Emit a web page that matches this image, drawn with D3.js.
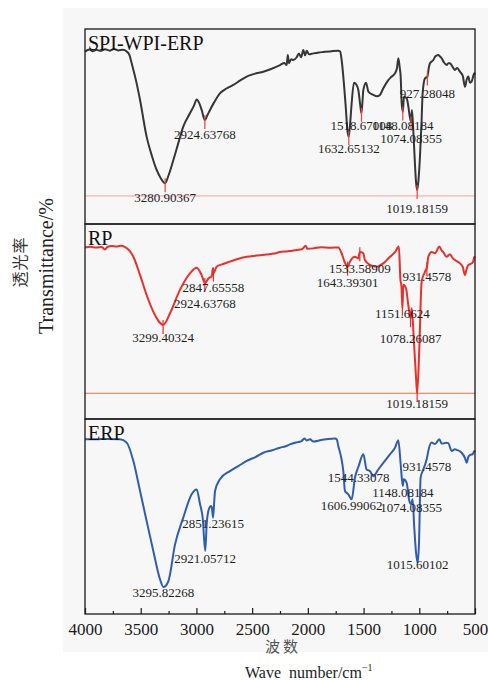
<!DOCTYPE html>
<html>
<head>
<meta charset="utf-8">
<script src="https://cdn.jsdelivr.net/npm/d3@7"></script>
<style>
  body { margin: 0; background: #fff; }
  svg { display: block; }
</style>
</head>
<body>
<svg id="chart" width="488" height="680"></svg>
<script>
// spectra: [wavenumber cm-1, relative transmittance]
const spiWpiErp = [
  [4000,88.4],[3960,89.5],[3930,88.6],[3900,89.3],[3860,88.8],[3820,89.6],[3780,88.9],[3740,89.8],[3700,89.0],
  [3660,89.4],[3626,88.5],[3600,86.5],[3581,82.4],[3540,73],[3506,63.6],[3447,44.8],[3400,35],[3357,27.7],
  [3320,23.5],[3281,20.9],[3250,25],[3207,32.8],[3160,42],[3118,49.9],[3058,56.8],[3020,61],[2998,63.9],
  [2975,62],[2953,58.5],[2925,53.3],[2900,56],[2878,58.5],[2840,62.5],[2789,67.0],[2730,69.5],[2669,71.3],
  [2610,73.5],[2549,75.6],[2480,77],[2400,78.1],[2330,79.5],[2250,81.5],[2210,82.6],[2190,81.5],[2180,86.7],
  [2170,82.5],[2150,84.5],[2130,84.1],[2100,85.5],[2080,87.5],[2060,85.5],[2041,89.2],[2025,86.5],[2010,88.8],
  [1990,87],[1951,87.5],[1900,88],[1861,88.2],[1800,88.5],[1727,88.9],[1710,88.5],[1697,84.1],[1660,60],
  [1645,48],[1633,44.8],[1620,52],[1607,61.9],[1586,72.5],[1565,71.5],[1547,68.7],[1530,61],[1519,56.8],
  [1502,68.7],[1478,72.5],[1457,67.9],[1413,66.2],[1380,65.5],[1353,66.2],[1323,69.6],[1278,73.8],[1250,75.5],
  [1218,77.3],[1200,80],[1188,85.0],[1175,80],[1167,75.6],[1158,62],[1148,57.6],[1137,65.3],[1113,64.4],
  [1098,60.2],[1085,55],[1074,52.5],[1066,58.5],[1054,48.2],[1040,32],[1030,22],[1019,17.4],[1008,22],
  [994,34.5],[980,52],[970,67.0],[949,74.7],[927,75.6],[915,80],[904,82.4],[874,84.1],[855,86],[830,86.7],
  [815,86],[799,85.0],[780,83],[754,81.5],[740,82.5],[725,82.4],[700,80.5],[680,79.0],[660,80],[635,78.1],
  [610,76],[590,70.4],[575,74],[560,75.6],[545,72.5],[530,73.0],[515,76],[506,77.3],[500,76.5]
];

const rp = [
  [4000,88.0],[3950,88.3],[3900,87.9],[3850,88.2],[3820,86.9],[3800,88.2],[3760,88.7],[3720,88.4],[3680,88.8],
  [3640,88.1],[3600,86.2],[3566,83.2],[3506,73.8],[3447,63.6],[3372,53.3],[3330,49.5],[3299,48.2],[3237,54.2],
  [3148,66.2],[3058,74.7],[2998,77.6],[2953,73.8],[2924,69.6],[2893,72.1],[2863,73.0],[2852,77.3],[2847,74.8],
  [2819,78.1],[2760,79.5],[2699,80.7],[2620,82.2],[2549,83.2],[2460,83.8],[2370,84.4],[2300,84.9],[2250,85.6],
  [2180,86.0],[2101,86.7],[2050,87.2],[2020,88.9],[2005,87.3],[1951,87.5],[1880,88.1],[1800,87.8],[1727,88.0],
  [1697,85.0],[1670,80.5],[1643,78.1],[1622,80.7],[1577,83.2],[1547,82.4],[1540,84.5],[1533,85.6],[1502,85.0],
  [1488,81.5],[1443,79.0],[1383,78.1],[1323,79.8],[1263,83.2],[1218,85.6],[1183,88.4],[1170,72],[1160,68],
  [1151,56.8],[1143,68.9],[1120,67.2],[1099,58.6],[1078,51.6],[1068,56.8],[1048,39.7],[1030,22],[1019,13.2],
  [1000,36.2],[979,70.4],[949,75.5],[931,78],[919,83.2],[889,85.6],[859,85.0],[820,88.4],[800,86.5],[785,85.6],
  [755,83.2],[725,84.5],[700,82.5],[680,81.5],[635,79.8],[610,78],[590,73.8],[575,77],[560,79.0],[530,79.8],
  [515,81],[506,83.2],[500,82.5]
];

const erp = [
  [4000,89.6],[3900,89.6],[3800,89.8],[3686,89.6],[3626,87.9],[3566,78.5],[3506,63.1],[3447,47.7],[3387,32.3],
  [3327,17.8],[3296,13.8],[3252,16.8],[3192,35.7],[3118,49.4],[3043,61.4],[2998,63.9],[2968,56.4],[2944,49.4],
  [2921,32.3],[2908,46.0],[2893,52.8],[2869,55.4],[2860,54],[2851,49.4],[2840,58],[2833,63.1],[2789,69.1],
  [2699,73.3],[2620,76],[2549,78.5],[2470,80.5],[2400,82.7],[2320,84],[2250,85.3],[2200,86],[2161,87.0],
  [2100,88],[2060,88.5],[2030,90],[2011,89.0],[1980,89.6],[1951,88.4],[1880,89.2],[1832,89.6],[1757,90.0],
  [1740,89.5],[1727,86.2],[1700,80],[1682,73.3],[1667,63.1],[1637,61.4],[1607,58.8],[1577,70.0],[1544,75.9],
  [1502,81.9],[1473,74.1],[1443,73.3],[1413,70.7],[1368,74.1],[1323,77.5],[1263,81.9],[1218,85.3],[1188,89.1],
  [1167,76.8],[1148,65.6],[1140,69.1],[1114,67.4],[1090,58.1],[1074,56.4],[1060,58.8],[1045,44.3],[1030,32],
  [1015,26.3],[1003,35.7],[988,70.0],[964,74.1],[931,80],[919,83.6],[889,87.9],[859,87.2],[820,89.6],[800,87.5],
  [785,87.5],[760,87.8],[740,87.6],[710,83.6],[680,84.5],[665,84.2],[620,82.7],[590,80],[575,77.6],[560,80.5],
  [545,81.5],[520,82],[506,83.6],[500,83]
];

// peak annotations (labels are the wavenumbers)
const spiWpiErpPeaks = ["3280.90367","2924.63768","1632.65132","1518.67008","1148.08184","1074.08355","927.28048","1019.18159"];
const rpPeaks = ["3299.40324","2847.65558","2924.63768","1533.58909","1643.39301","931.4578","1151.6624","1078.26087","1019.18159"];
const erpPeaks = ["3295.82268","2921.05712","2851.23615","1544.33078","1606.99062","931.4578","1148.08184","1074.08355","1015.60102"];

const sampleNames = ["SPI-WPI-ERP", "RP", "ERP"];
const xTicks = [4000, 3500, 3000, 2500, 2000, 1500, 1000, 500];
const xMinorTicks = [3750, 3250, 2750, 2250, 1750, 1250, 750];

// layout: label baselines (same units as the spectrum) and reference lines
const spiLabelY = [11.4, 43.4, 36.3, 48.2, 48.2, 41.7, 64.5, 5.5];
const rpLabelY = [39.3, 65.3, 57.1, 74.7, 67.8, 70.9, 51.6, 39.1, 5.8];
const erpLabelY = [8.6, 26.3, 43.9, 67.8, 53.3, 73.3, 59.8, 52.5, 22.9];

const svg = d3.select('#chart');
const serif = '"Liberation Serif", "Times New Roman", serif';
const cjk = '"Noto Sans CJK SC", sans-serif';

const left = 85, right = 475, panelH = 195;
const tops = [29, 224, 419];

svg.append('rect')
  .attr('x', 63).attr('y', 8).attr('width', 425).attr('height', 644)
  .attr('fill', '#f7f7f7');

const x = d3.scaleLinear().domain([4000, 500]).range([left, right]);

const panels = [
  { data: spiWpiErp, peaks: spiWpiErpPeaks, labelY: spiLabelY, color: '#363636', mark: '#e8443a', base: 14.4, baseColor: '#f4a3a0' },
  { data: rp, peaks: rpPeaks, labelY: rpLabelY, color: '#e8302c', mark: '#e8302c', base: 13.2, baseColor: '#d77448' },
  { data: erp, peaks: erpPeaks, labelY: erpLabelY, color: '#2f5db0', mark: null, base: null }
];

function valueAt(data, wn) {
  for (let i = 0; i < data.length - 1; i++) {
    const a = data[i], b = data[i + 1];
    if (wn <= a[0] && wn >= b[0]) {
      const t = (a[0] - wn) / (a[0] - b[0]);
      return a[1] + t * (b[1] - a[1]);
    }
  }
  return data[data.length - 1][1];
}

panels.forEach((p, i) => {
  const top = tops[i];
  const y = d3.scaleLinear().domain([0, 100]).range([top + panelH, top]);
  const g = svg.append('g');

  if (p.base != null) {
    g.append('line')
      .attr('x1', left).attr('x2', right)
      .attr('y1', y(p.base)).attr('y2', y(p.base))
      .attr('stroke', p.baseColor).attr('stroke-width', 1);
  }

  const line = d3.line()
    .x(d => x(d[0]))
    .y(d => y(d[1]))
    .curve(d3.curveMonotoneX);

  g.append('path')
    .datum(p.data)
    .attr('d', line)
    .attr('fill', 'none')
    .attr('stroke', p.color)
    .attr('stroke-width', 2)
    .attr('stroke-linejoin', 'round');

  if (p.mark) {
    g.selectAll('.mark')
      .data(p.peaks)
      .enter().append('line')
      .attr('class', 'mark')
      .attr('x1', d => x(+d)).attr('x2', d => x(+d))
      .attr('y1', d => y(valueAt(p.data, +d)) - 5)
      .attr('y2', d => y(valueAt(p.data, +d)) + 9)
      .attr('stroke', p.mark).attr('stroke-width', 1.2);
  }

  g.selectAll('.peak')
    .data(p.peaks)
    .enter().append('text')
    .attr('class', 'peak')
    .attr('x', d => x(+d))
    .attr('y', (d, j) => y(p.labelY[j]))
    .attr('text-anchor', 'middle')
    .style('font-family', serif)
    .style('font-size', '13px')
    .attr('fill', '#1e1e1e')
    .text(d => d);

  g.append('text')
    .attr('x', left + 3).attr('y', top + 21)
    .style('font-family', serif)
    .style('font-size', '20px')
    .attr('fill', '#111')
    .text(sampleNames[i]);

  g.append('rect')
    .attr('x', left).attr('y', top)
    .attr('width', right - left).attr('height', panelH)
    .attr('fill', 'none')
    .attr('stroke', '#1a1a1a')
    .attr('stroke-width', 1.3);
});

// bottom axis, ticks pointing inward
const axisY = tops[2] + panelH;
const axisG = svg.append('g')
  .attr('transform', `translate(0,${axisY})`)
  .call(d3.axisBottom(x).tickValues(xTicks).tickSize(-6).tickPadding(9).tickFormat(d3.format('d')));
axisG.select('.domain').remove();
axisG.selectAll('.tick line').attr('stroke', '#1a1a1a').attr('stroke-width', 1.2);
axisG.selectAll('.tick text')
  .style('font-family', serif)
  .style('font-size', '17px')
  .attr('fill', '#1a1a1a');

const minorG = svg.append('g')
  .attr('transform', `translate(0,${axisY})`)
  .call(d3.axisBottom(x).tickValues(xMinorTicks).tickSize(-3).tickFormat(''));
minorG.select('.domain').remove();
minorG.selectAll('.tick line').attr('stroke', '#1a1a1a').attr('stroke-width', 1.2);

// axis titles
svg.append('text')
  .attr('x', 283).attr('y', 652)
  .attr('text-anchor', 'middle')
  .style('font-family', cjk)
  .style('font-size', '15px')
  .style('letter-spacing', '3px')
  .attr('fill', '#555')
  .text('波数');

const xTitle = svg.append('text')
  .attr('x', 245).attr('y', 678)
  .style('font-family', serif)
  .style('font-size', '16px')
  .attr('fill', '#222');
xTitle.append('tspan').text('Wave\u00a0 number/cm');
xTitle.append('tspan').attr('dy', -7).style('font-size', '10px').text('−1');

svg.append('text')
  .attr('transform', 'translate(26,262) rotate(-90)')
  .attr('text-anchor', 'middle')
  .style('font-family', cjk)
  .style('font-size', '16px')
  .style('letter-spacing', '1px')
  .attr('fill', '#333')
  .text('透光率');

svg.append('text')
  .attr('transform', 'translate(53,266) rotate(-90)')
  .attr('text-anchor', 'middle')
  .style('font-family', serif)
  .style('font-size', '20px')
  .attr('fill', '#222')
  .text('Transmittance/%');
</script>
</body>
</html>
